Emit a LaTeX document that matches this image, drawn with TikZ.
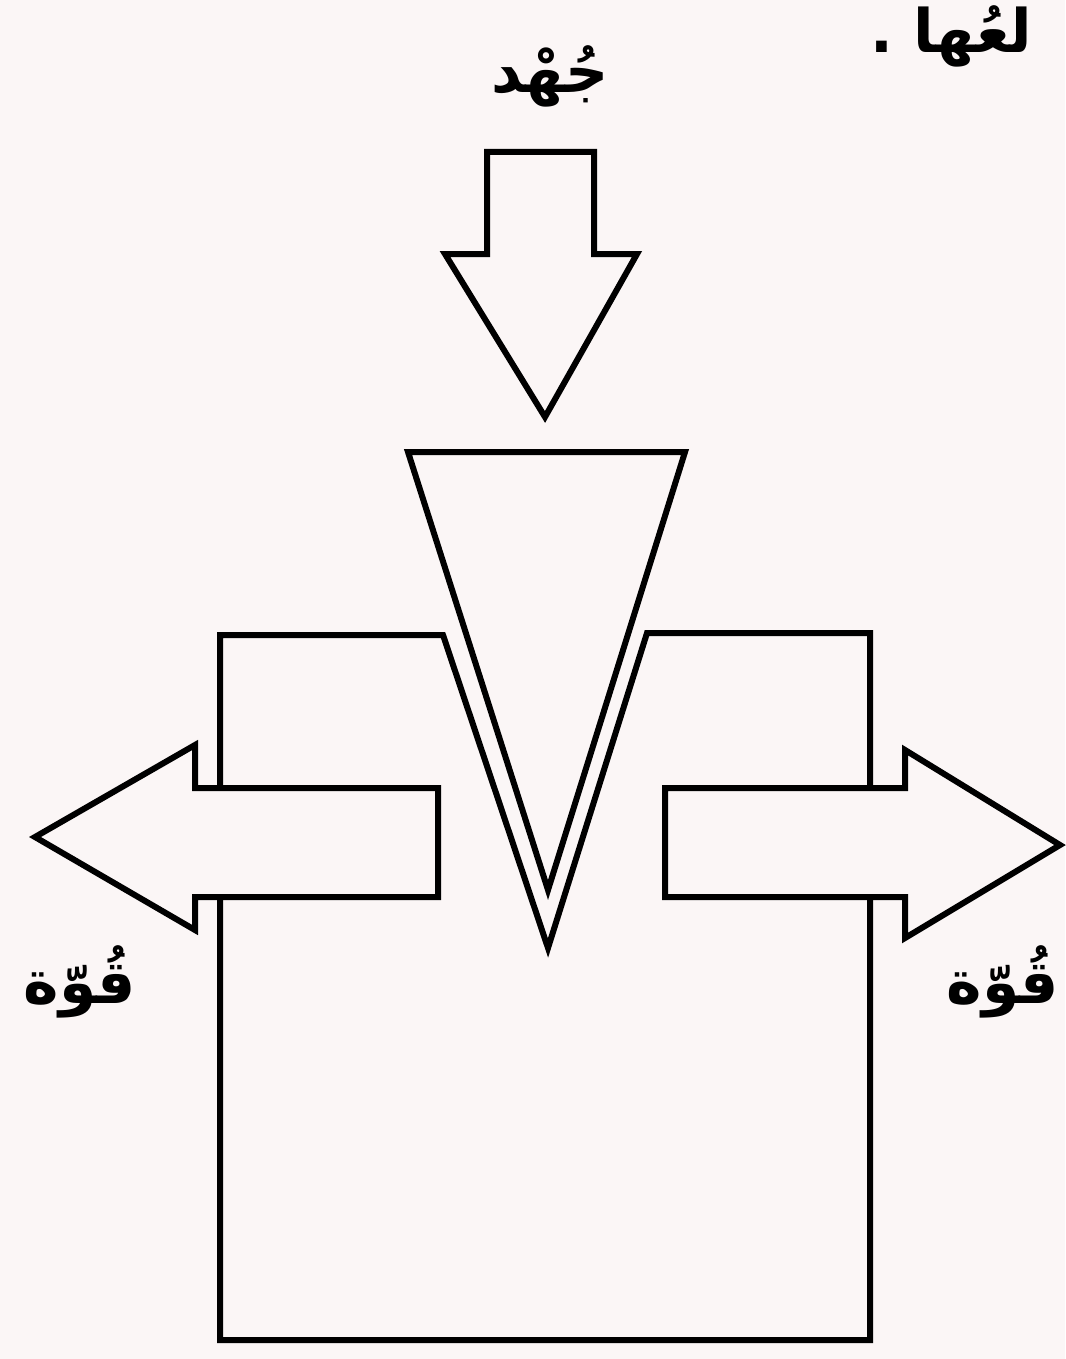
\documentclass[tikz,border=0pt]{standalone}
\usepackage{fontspec}
\newfontfamily\arabicfont[Script=Arabic]{DejaVu Sans}
\TeXXeTstate=1
\definecolor{paper}{RGB}{251,246,246}
\tikzset{
  outline/.style={draw=black, line width=6pt, line join=miter, fill=paper},
  wordlabel/.style={font=\arabicfont\bfseries\fontsize{60}{70}\selectfont, inner sep=0pt, text=black},
}
\begin{document}
\begin{tikzpicture}[x=1pt,y=-1pt]
\fill[paper] (0,0) rectangle (1065,1359);
\useasboundingbox (0,0) rectangle (1065,1359);
% container with V notch
\draw[outline] (220,1340) -- (220,635) -- (443,635) -- (548,948) -- (647,633) -- (870,633) -- (870,1340) -- cycle;
% wedge
\draw[outline, fill=none] (408,452) -- (685,452) -- (548,890) -- cycle;
% top arrow (effort)
\draw[outline] (487,152) -- (594,152) -- (594,254) -- (637,254) -- (545,417) -- (445,254) -- (487,254) -- cycle;
% left arrow (force)
\draw[outline] (438,788) -- (195,788) -- (195,745) -- (35,837) -- (195,930) -- (195,897) -- (438,897) -- cycle;
% right arrow (force)
\draw[outline] (665,788) -- (905,788) -- (905,750) -- (1060,845) -- (905,938) -- (905,897) -- (665,897) -- cycle;
% labels
\node[wordlabel] (effort) at (550,76) {\beginR جُهْد\endR};
\node[wordlabel] (forceL) at (80,982) {\beginR قُوّة\endR};
\node[wordlabel] (forceR) at (1003,982) {\beginR قُوّة\endR};
\node[wordlabel, anchor=west] (topline) at (870,36) {\beginR لعُها .\endR};
\end{tikzpicture}
\end{document}
